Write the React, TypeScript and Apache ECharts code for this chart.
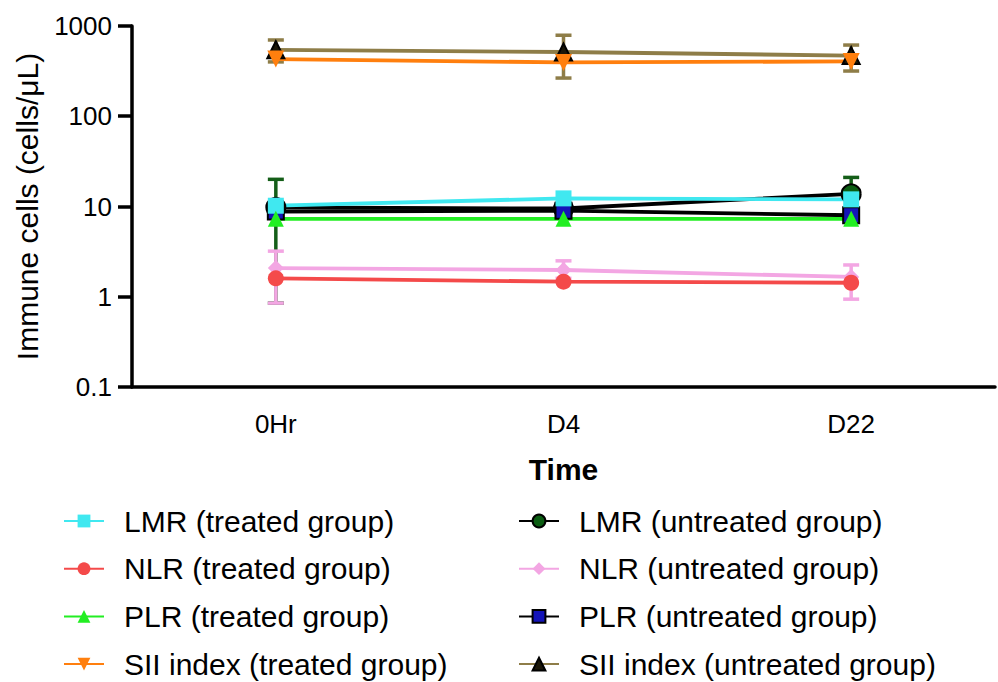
import React, { useEffect, useRef } from "react";
import * as echarts from "echarts";

const categories = ["0Hr", "D4", "D22"];
const yTicks = [0.1, 1, 10, 100, 1000];

const lmrTreated = [10.2, 12.3, 12.0];
const nlrTreated = [1.6, 1.47, 1.43];
const plrTreated = [7.3, 7.3, 7.3];
const siiTreated = [430, 395, 405];
const lmrUntreated = [9.8, 9.5, 13.8];
const nlrUntreated = [2.08, 1.98, 1.66];
const plrUntreated = [8.8, 9.0, 8.0];
const siiUntreated = [545, 515, 470];

const lmrUntreatedLow = [0.85, null, 9.5];
const lmrUntreatedHigh = [20, null, 21];
const nlrUntreatedLow = [0.85, 1.6, 0.94];
const nlrUntreatedHigh = [3.2, 2.5, 2.25];
const siiUntreatedLow = [400, 265, 317];
const siiUntreatedHigh = [700, 790, 615];

const FONT = "Liberation Sans, Arial, Helvetica, sans-serif";

function errData(low: (number | null)[], high: (number | null)[]) {
  const out: any[] = [];
  low.forEach((l, i) => {
    const h = high[i];
    if (l != null && h != null) out.push([i, l, h]);
  });
  return out;
}

function errSeries(name: string, low: (number | null)[], high: (number | null)[], color: string) {
  return {
    type: "custom",
    name: name + "-err",
    z: 1,
    silent: true,
    data: errData(low, high),
    renderItem: (params: any, api: any) => {
      const x = api.value(0);
      const lo = api.coord([x, api.value(1)]);
      const hi = api.coord([x, api.value(2)]);
      const cw = 8;
      const style = { stroke: color, lineWidth: 3.5 };
      return {
        type: "group",
        children: [
          { type: "line", shape: { x1: lo[0], y1: lo[1], x2: hi[0], y2: hi[1] }, style },
          { type: "line", shape: { x1: hi[0] - cw, y1: hi[1], x2: hi[0] + cw, y2: hi[1] }, style },
          { type: "line", shape: { x1: lo[0] - cw, y1: lo[1], x2: lo[0] + cw, y2: lo[1] }, style },
        ],
      };
    },
  };
}

function lineSeries(
  name: string,
  data: number[],
  lineColor: string,
  fill: string,
  symbol: string,
  size: number,
  border?: string,
  rotate?: number
) {
  return {
    type: "line",
    name,
    data,
    z: 3,
    symbol,
    symbolSize: size,
    symbolRotate: rotate || 0,
    lineStyle: { color: lineColor, width: 3.8 },
    itemStyle: {
      color: fill,
      borderColor: border || fill,
      borderWidth: border ? 2 : 0,
    },
  };
}

const treatedNames = [
  "LMR (treated group)",
  "NLR (treated group)",
  "PLR (treated group)",
  "SII index (treated group)",
];
const untreatedNames = [
  "LMR (untreated group)",
  "NLR (untreated group)",
  "PLR (untreated group)",
  "SII index (untreated group)",
];

export default function App() {
  const ref = useRef<HTMLDivElement>(null);
  useEffect(() => {
    if (!ref.current) return;
    const chart = echarts.init(ref.current, null, { renderer: "svg" });
    const legendCommon = {
      orient: "vertical",
      top: 506,
      height: 176,
      padding: 0,
      itemWidth: 40,
      itemHeight: 16,
      itemGap: 17.7,
      textStyle: {
        fontFamily: FONT,
        fontSize: 30,
        lineHeight: 30,
        color: "#000",
        padding: [0, 0, 0, 15],
      },
    };
    chart.setOption({
      animation: false,
      backgroundColor: "#fff",
      grid: { left: 132, right: 3, top: 26, bottom: 295, containLabel: false },
      legend: [
        { ...legendCommon, left: 63, data: treatedNames },
        { ...legendCommon, left: 518, data: untreatedNames },
      ],
      xAxis: {
        type: "category",
        data: categories,
        boundaryGap: true,
        name: "Time",
        nameLocation: "middle",
        nameGap: 67,
        nameTextStyle: { fontFamily: FONT, fontSize: 30, fontWeight: "bold", color: "#000" },
        axisLine: { lineStyle: { color: "#000", width: 3.5 } },
        axisTick: { alignWithLabel: true, length: 14, lineStyle: { color: "#000", width: 3.5 } },
        axisLabel: { fontFamily: FONT, fontSize: 26, color: "#000", margin: 24 },
        splitLine: { show: false },
      },
      yAxis: {
        type: "log",
        logBase: 10,
        min: 0.1,
        max: 1000,
        name: "Immune cells (cells/μL)",
        nameLocation: "middle",
        nameGap: 90,
        nameTextStyle: { fontFamily: FONT, fontSize: 30, color: "#000" },
        axisLine: { show: true, lineStyle: { color: "#000", width: 3.5 } },
        axisTick: { show: true, length: 14, lineStyle: { color: "#000", width: 3.5 } },
        axisLabel: {
          fontFamily: FONT,
          fontSize: 26,
          color: "#000",
          margin: 20,
          formatter: (v: number) => {
            const t = yTicks.find((k) => Math.abs(k - v) / k < 1e-6);
            return t != null ? String(t) : "";
          },
        },
        splitLine: { show: false },
      },
      series: [
        errSeries("SII untreated", siiUntreatedLow, siiUntreatedHigh, "#8E7D48"),
        errSeries("LMR untreated", lmrUntreatedLow, lmrUntreatedHigh, "#145E18"),
        errSeries("NLR untreated", nlrUntreatedLow, nlrUntreatedHigh, "#F3A6E3"),
        lineSeries(untreatedNames[3], siiUntreated, "#8E7D48", "#1a1608", "triangle", 17, "#000"),
        lineSeries(treatedNames[3], siiTreated, "#FF7F0E", "#FF7F0E", "triangle", 17, undefined, 180),
        lineSeries(untreatedNames[0], lmrUntreated, "#000", "#0B5D12", "circle", 19, "#000"),
        lineSeries(untreatedNames[2], plrUntreated, "#000", "#1414B8", "rect", 16, "#000"),
        lineSeries(treatedNames[0], lmrTreated, "#40E8F0", "#40E8F0", "rect", 16),
        lineSeries(treatedNames[2], plrTreated, "#22EE22", "#22EE22", "triangle", 16),
        lineSeries(untreatedNames[1], nlrUntreated, "#F3A6E3", "#F3A6E3", "diamond", 16),
        lineSeries(treatedNames[1], nlrTreated, "#F44A4A", "#F44A4A", "circle", 16),
      ],
    });
    return () => chart.dispose();
  }, []);
  return (
    <div
      ref={ref}
      style={{ position: "fixed", left: 0, top: 0, width: 998, height: 682 }}
    />
  );
}
